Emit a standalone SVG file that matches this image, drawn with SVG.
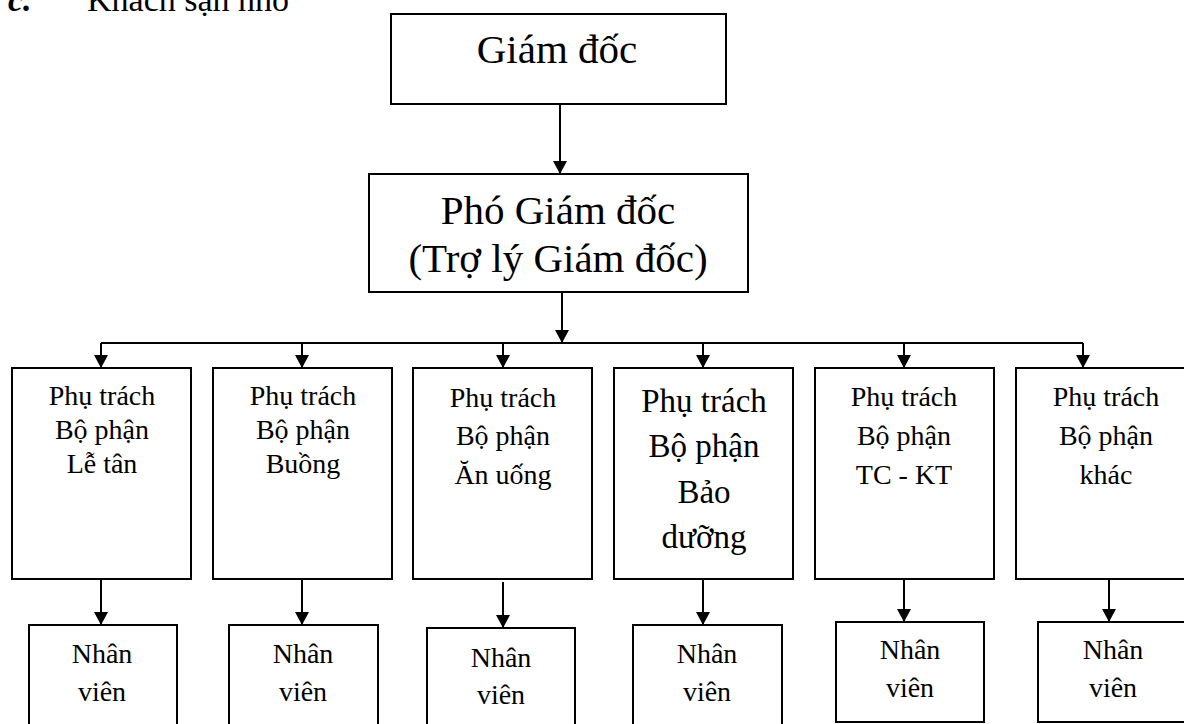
<svg xmlns="http://www.w3.org/2000/svg" width="1184" height="724" viewBox="0 0 1184 724">
<defs>
<marker id="ah" markerUnits="userSpaceOnUse" markerWidth="14" markerHeight="14" refX="13" refY="7" orient="auto" viewBox="0 0 14 14">
<path d="M0,0 L13,7 L0,14 z" fill="#000"/>
</marker>
<style>
.box{fill:#fff;stroke:#000;stroke-width:2}
.t{font-family:"Liberation Serif","Times New Roman",serif;fill:#000;text-anchor:middle}
.s{font-size:28px}
.m{font-size:33px}
.l{font-size:41px}
.c{stroke:#000;stroke-width:2;fill:none}
.a{marker-end:url(#ah)}
</style>
</defs>
<rect width="1184" height="724" fill="#fff"/>
<text x="8" y="11" font-family="Liberation Serif,serif" font-size="34" font-weight="bold" font-style="italic">c.</text>
<text x="87" y="11" font-family="Liberation Serif,serif" font-size="34">Khách sạn nhỏ</text>

<g id="connectors">
<line class="c a" x1="560" y1="104" x2="560" y2="174"/>
<line class="c a" x1="562" y1="292" x2="562" y2="343"/>
<polyline class="c" points="101,343 1083,343"/>
<line class="c a" x1="101" y1="343" x2="101" y2="368"/>
<line class="c a" x1="302" y1="343" x2="302" y2="368"/>
<line class="c a" x1="503" y1="343" x2="503" y2="368"/>
<line class="c a" x1="703" y1="343" x2="703" y2="368"/>
<line class="c a" x1="904" y1="343" x2="904" y2="368"/>
<line class="c a" x1="1083" y1="343" x2="1083" y2="368"/>
<line class="c a" x1="101" y1="579" x2="101" y2="625"/>
<line class="c a" x1="302" y1="579" x2="302" y2="625"/>
<line class="c a" x1="503" y1="582" x2="503" y2="628"/>
<line class="c a" x1="703" y1="579" x2="703" y2="625"/>
<line class="c a" x1="904" y1="578" x2="904" y2="622"/>
<line class="c a" x1="1109" y1="578" x2="1109" y2="622"/>
</g>

<g id="giamdoc">
<rect class="box" x="391" y="14" width="335" height="90"/>
<text class="t l" x="557" y="63">Giám đốc</text>
</g>
<g id="phogiamdoc">
<rect class="box" x="369" y="174" width="379" height="118"/>
<text class="t l" x="558" y="224">Phó Giám đốc</text>
<text class="t l" x="558" y="272">(Trợ lý Giám đốc)</text>
</g>

<g id="letan">
<rect class="box" x="12" y="368" width="179" height="211"/>
<text class="t s" x="102" y="405">Phụ trách</text>
<text class="t s" x="102" y="439">Bộ phận</text>
<text class="t s" x="102" y="473">Lễ tân</text>
</g>
<g id="buong">
<rect class="box" x="213" y="368" width="179" height="211"/>
<text class="t s" x="303" y="405">Phụ trách</text>
<text class="t s" x="303" y="439">Bộ phận</text>
<text class="t s" x="303" y="473">Buồng</text>
</g>
<g id="anuong">
<rect class="box" x="413" y="368" width="179" height="211"/>
<text class="t s" x="503" y="407">Phụ trách</text>
<text class="t s" x="503" y="445">Bộ phận</text>
<text class="t s" x="503" y="484">Ăn uống</text>
</g>
<g id="baoduong">
<rect class="box" x="614" y="368" width="179" height="211"/>
<text class="t m" x="704" y="412">Phụ trách</text>
<text class="t m" x="704" y="457">Bộ phận</text>
<text class="t m" x="704" y="503">Bảo</text>
<text class="t m" x="704" y="548">dưỡng</text>
</g>
<g id="tckt">
<rect class="box" x="815" y="368" width="179" height="211"/>
<text class="t s" x="904" y="406">Phụ trách</text>
<text class="t s" x="904" y="445">Bộ phận</text>
<text class="t s" x="904" y="484">TC - KT</text>
</g>
<g id="khac">
<rect class="box" x="1016" y="368" width="179" height="211"/>
<text class="t s" x="1106" y="406">Phụ trách</text>
<text class="t s" x="1106" y="445">Bộ phận</text>
<text class="t s" x="1106" y="484">khác</text>
</g>

<g id="nv1">
<rect class="box" x="29" y="625" width="148" height="110"/>
<text class="t s" x="102" y="663">Nhân</text>
<text class="t s" x="102" y="701">viên</text>
</g>
<g id="nv2">
<rect class="box" x="229" y="625" width="149" height="110"/>
<text class="t s" x="303" y="663">Nhân</text>
<text class="t s" x="303" y="701">viên</text>
</g>
<g id="nv3">
<rect class="box" x="427" y="628" width="148" height="110"/>
<text class="t s" x="501" y="667">Nhân</text>
<text class="t s" x="501" y="704">viên</text>
</g>
<g id="nv4">
<rect class="box" x="633" y="625" width="149" height="110"/>
<text class="t s" x="707" y="663">Nhân</text>
<text class="t s" x="707" y="701">viên</text>
</g>
<g id="nv5">
<rect class="box" x="836" y="622" width="148" height="100"/>
<text class="t s" x="910" y="659">Nhân</text>
<text class="t s" x="910" y="697">viên</text>
</g>
<g id="nv6">
<rect class="box" x="1038" y="622" width="150" height="100"/>
<text class="t s" x="1113" y="659">Nhân</text>
<text class="t s" x="1113" y="697">viên</text>
</g>
</svg>
